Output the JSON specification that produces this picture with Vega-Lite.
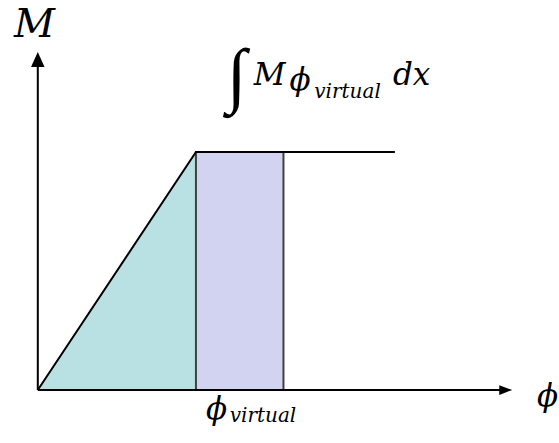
{
  "$schema": "https://vega.github.io/schema/vega-lite/v6.json",
  "width": 559,
  "height": 443,
  "padding": 0,
  "autosize": {"type": "fit", "contains": "padding"},
  "background": "white",
  "config": {"view": {"stroke": null}},
  "datasets": {
    "tri": [{"x": 0, "y": 0}, {"x": 159, "y": 238}],
    "rect": [{"x": 159, "x2": 247, "y": 0, "y2": 238}],
    "curve": [{"x": 0, "y": 0}, {"x": 159, "y": 238}, {"x": 359, "y": 238}],
    "axes": [{"x": 0, "y": 0, "x2": 466, "y2": 0}, {"x": 0, "y": 0, "x2": 0, "y2": 325}],
    "upArrow": [{"x": 0, "y": 330.5}],
    "rightArrow": [{"x": 470.5, "y": 0}],
    "big": [
      {"x": -24, "y": 365, "t": "M"}
    ],
    "mid": [
      {"x": 217, "y": 314, "t": "M"},
      {"x": 253, "y": 309, "t": "ϕ"},
      {"x": 357, "y": 314, "t": "dx"},
      {"x": 169, "y": -20, "t": "ϕ"},
      {"x": 502, "y": -7, "t": "ϕ"}
    ],
    "sub": [
      {"x": 278, "y": 298, "t": "virtual"},
      {"x": 193, "y": -26, "t": "virtual"}
    ],
    "integral": [{"x": 190, "y": 313, "t": "∫"}]
  },
  "encoding": {
    "x": {"field": "x", "type": "quantitative", "scale": {"domain": [-38, 521], "nice": false, "zero": false}, "axis": null},
    "y": {"field": "y", "type": "quantitative", "scale": {"domain": [-53, 390], "nice": false, "zero": false}, "axis": null}
  },
  "layer": [
    {"data": {"name": "tri"}, "mark": {"type": "area", "color": "#b9e1e3", "interpolate": "linear"}, "encoding": {"y2": {"datum": 0}}},
    {"data": {"name": "rect"}, "mark": {"type": "rect", "fill": "#d1d3f0", "stroke": "#404040", "strokeWidth": 2}, "encoding": {"x2": {"field": "x2"}, "y2": {"field": "y2"}}},
    {"data": {"name": "curve"}, "mark": {"type": "line", "color": "black", "strokeWidth": 2}, "encoding": {}},
    {"data": {"name": "axes"}, "mark": {"type": "rule", "color": "black", "strokeWidth": 2}, "encoding": {"x2": {"field": "x2"}, "y2": {"field": "y2"}}},
    {"data": {"name": "integral"}, "mark": {"type": "text", "font": "Liberation Serif", "fontSize": 72, "align": "left", "color": "black"}, "encoding": {"text": {"field": "t"}}},
    {"data": {"name": "big"}, "mark": {"type": "text", "font": "DejaVu Serif", "fontStyle": "italic", "fontSize": 40, "align": "left", "color": "black"}, "encoding": {"text": {"field": "t"}}},
    {"data": {"name": "mid"}, "mark": {"type": "text", "font": "DejaVu Serif", "fontStyle": "italic", "fontSize": 31, "align": "left", "color": "black"}, "encoding": {"text": {"field": "t"}}},
    {"data": {"name": "sub"}, "mark": {"type": "text", "font": "DejaVu Serif", "fontStyle": "italic", "fontSize": 20, "align": "left", "color": "black"}, "encoding": {"text": {"field": "t"}}},
    {"data": {"name": "upArrow"}, "mark": {"type": "point", "shape": "M0,-1L0.9,1L-0.9,1Z", "size": 225, "filled": true, "color": "black", "opacity": 1}},
    {"data": {"name": "rightArrow"}, "mark": {"type": "point", "shape": "M1,0L-1,-0.75L-1,0.75Z", "size": 169, "filled": true, "color": "black", "opacity": 1}}
  ]
}
